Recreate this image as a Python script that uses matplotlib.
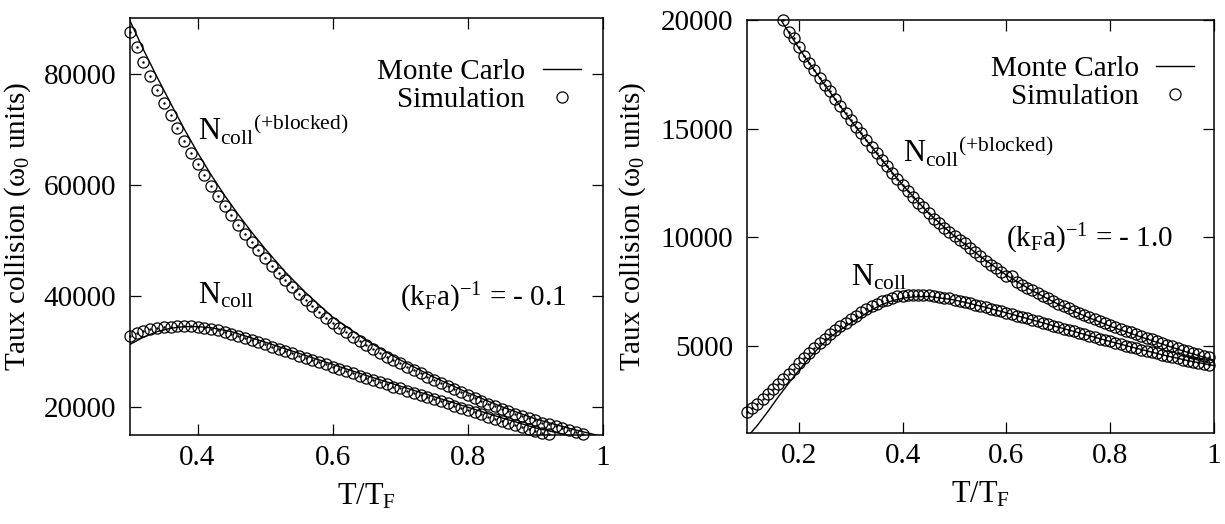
import numpy as np
import matplotlib
matplotlib.use('Agg')
import matplotlib.pyplot as plt
from matplotlib.lines import Line2D

plt.rcParams['font.family'] = ['Liberation Serif', 'DejaVu Serif']
plt.rcParams['mathtext.fontset'] = 'custom'
plt.rcParams['mathtext.rm'] = 'Liberation Serif'
plt.rcParams['mathtext.it'] = 'Liberation Serif:italic'
plt.rcParams['font.size'] = 21

# ---------------- panneau gauche : (kF a)^-1 = -0.1 ----------------
# simulation, N_coll (+blocked)
t_sim_blk_g = [0.30, 0.31, 0.32, 0.33, 0.34, 0.35, 0.36, 0.37, 0.38, 0.39,
               0.40, 0.41, 0.42, 0.43, 0.44, 0.45, 0.46, 0.47, 0.48, 0.49,
               0.50, 0.51, 0.52, 0.53, 0.54, 0.55, 0.56, 0.57, 0.58, 0.59,
               0.60, 0.61, 0.62, 0.63, 0.64, 0.65, 0.66, 0.67, 0.68, 0.69,
               0.70, 0.71, 0.72, 0.73, 0.74, 0.75, 0.76, 0.77, 0.78, 0.79,
               0.80, 0.81, 0.82, 0.83, 0.84, 0.85, 0.86, 0.87, 0.88, 0.89,
               0.90, 0.91, 0.92, 0.93, 0.94, 0.95, 0.96, 0.97]
n_sim_blk_g = [87400, 84700, 82100, 79600, 77100, 74800, 72500, 70200, 67900, 65800,
               63700, 61700, 59800, 58000, 56200, 54500, 52800, 51200, 49700, 48200,
               46800, 45400, 44100, 42800, 41600, 40400, 39300, 38200, 37100, 36100,
               35100, 34300, 33500, 32700, 31900, 31200, 30500, 29800, 29100, 28500,
               27900, 27300, 26700, 26100, 25500, 24900, 24350, 23800, 23250, 22700,
               22150, 21650, 21150, 20650, 20200, 19750, 19300, 18850, 18450, 18050,
               17650, 17250, 16900, 16550, 16200, 15850, 15500, 15200]

# simulation, N_coll
t_sim_col_g = [0.30, 0.31, 0.32, 0.33, 0.34, 0.35, 0.36, 0.37, 0.38, 0.39,
               0.40, 0.41, 0.42, 0.43, 0.44, 0.45, 0.46, 0.47, 0.48, 0.49,
               0.50, 0.51, 0.52, 0.53, 0.54, 0.55, 0.56, 0.57, 0.58, 0.59,
               0.60, 0.61, 0.62, 0.63, 0.64, 0.65, 0.66, 0.67, 0.68, 0.69,
               0.70, 0.71, 0.72, 0.73, 0.74, 0.75, 0.76, 0.77, 0.78, 0.79,
               0.80, 0.81, 0.82, 0.83, 0.84, 0.85, 0.86, 0.87, 0.88, 0.89,
               0.90, 0.91, 0.92]
n_sim_col_g = [32800, 33300, 33700, 34000, 34200, 34400, 34500, 34600, 34600, 34600,
               34450, 34300, 34100, 33800, 33500, 33200, 32900, 32500, 32100, 31700,
               31300, 30900, 30500, 30100, 29700, 29300, 28900, 28500, 28100, 27700,
               27300, 26900, 26500, 26100, 25700, 25300, 24900, 24500, 24100, 23700,
               23400, 23000, 22600, 22200, 21800, 21500, 21100, 20700, 20300, 19900,
               19500, 19100, 18700, 18300, 17900, 17500, 17100, 16800, 16400, 16000,
               15700, 15400, 15100]

# Monte Carlo
t_mc_blk_g = [0.30, 0.32, 0.34, 0.36, 0.38, 0.40, 0.42, 0.44, 0.46, 0.48, 0.50,
              0.53, 0.56, 0.60, 0.65, 0.70, 0.75, 0.80, 0.85, 0.90, 0.95, 1.00]
n_mc_blk_g = [89500, 84300, 79400, 74700, 70100, 65800, 61800, 58100, 54700, 51500, 48500,
              44300, 40600, 36200, 32000, 28500, 25400, 22600, 20100, 17900, 16200, 14700]
t_mc_col_g = [0.30, 0.32, 0.34, 0.36, 0.38, 0.40, 0.42, 0.45, 0.50, 0.55, 0.60,
              0.65, 0.70, 0.75, 0.80, 0.85, 0.90, 0.95, 1.00]
n_mc_col_g = [31300, 32600, 33600, 34200, 34500, 34500, 34300, 33600, 31700, 29700, 27700,
              25700, 23800, 21900, 20000, 18100, 16300, 14900, 13800]

# ---------------- panneau droit : (kF a)^-1 = -1.0 ----------------
t_sim_blk_d = [0.17, 0.18, 0.19, 0.20, 0.21, 0.22, 0.23, 0.24, 0.25, 0.26, 0.27, 0.28, 0.29,
               0.30, 0.31, 0.32, 0.33, 0.34, 0.35, 0.36, 0.37, 0.38, 0.39,
               0.40, 0.41, 0.42, 0.43, 0.44, 0.45, 0.46, 0.47, 0.48, 0.49,
               0.50, 0.51, 0.52, 0.53, 0.54, 0.55, 0.56, 0.57, 0.58, 0.59,
               0.60, 0.61, 0.62, 0.63, 0.64, 0.65, 0.66, 0.67, 0.68, 0.69,
               0.70, 0.71, 0.72, 0.73, 0.74, 0.75, 0.76, 0.77, 0.78, 0.79,
               0.80, 0.81, 0.82, 0.83, 0.84, 0.85, 0.86, 0.87, 0.88, 0.89,
               0.90, 0.91, 0.92, 0.93, 0.94, 0.95, 0.96, 0.97, 0.98, 0.99]
n_sim_blk_d = [20000, 19450, 19170, 18740, 18360, 18010, 17680, 17350, 17030, 16710, 16360, 16050, 15720,
               15380, 15060, 14780, 14480, 14150, 13860, 13540, 13270, 12970, 12690,
               12400, 12150, 11870, 11590, 11380, 11110, 10860, 10650, 10420, 10240,
               10060, 9880, 9720, 9520, 9320, 9120, 8920, 8740, 8570, 8400,
               8240, 8200, 7950, 7810, 7680, 7560, 7430, 7310, 7190, 7070,
               6950, 6840, 6730, 6630, 6530, 6430, 6330, 6230, 6130, 6040,
               5960, 5870, 5790, 5710, 5630, 5550, 5470, 5390, 5310, 5230,
               5150, 5060, 4980, 4910, 4840, 4770, 4700, 4630, 4560, 4490]

t_sim_col_d = [0.10, 0.11, 0.12, 0.13, 0.14, 0.15, 0.16, 0.17, 0.18, 0.19,
               0.20, 0.21, 0.22, 0.23, 0.24, 0.25, 0.26, 0.27, 0.28, 0.29,
               0.30, 0.31, 0.32, 0.33, 0.34, 0.35, 0.36, 0.37, 0.38, 0.39,
               0.40, 0.41, 0.42, 0.43, 0.44, 0.45, 0.46, 0.47, 0.48, 0.49,
               0.50, 0.51, 0.52, 0.53, 0.54, 0.55, 0.56, 0.57, 0.58, 0.59,
               0.60, 0.61, 0.62, 0.63, 0.64, 0.65, 0.66, 0.67, 0.68, 0.69,
               0.70, 0.71, 0.72, 0.73, 0.74, 0.75, 0.76, 0.77, 0.78, 0.79,
               0.80, 0.81, 0.82, 0.83, 0.84, 0.85, 0.86, 0.87, 0.88, 0.89,
               0.90, 0.91, 0.92, 0.93, 0.94, 0.95, 0.96, 0.97, 0.98, 0.99]
n_sim_col_d = [1950, 2150, 2350, 2560, 2780, 3010, 3240, 3480, 3720, 3960,
               4200, 4440, 4680, 4910, 5130, 5340, 5540, 5730, 5910, 6080,
               6240, 6400, 6550, 6690, 6820, 6940, 7050, 7140, 7220, 7280,
               7320, 7350, 7370, 7370, 7360, 7340, 7310, 7270, 7230, 7190,
               7140, 7090, 7030, 6970, 6910, 6850, 6790, 6720, 6660, 6590,
               6530, 6460, 6400, 6330, 6270, 6200, 6140, 6070, 6000, 5940,
               5870, 5800, 5740, 5670, 5600, 5540, 5470, 5400, 5340, 5270,
               5210, 5150, 5080, 5020, 4960, 4900, 4840, 4780, 4720, 4660,
               4600, 4540, 4490, 4430, 4380, 4330, 4280, 4230, 4180, 4130]

t_mc_blk_d = [0.16, 0.20, 0.25, 0.30, 0.35, 0.40, 0.45, 0.50, 0.55, 0.60,
              0.65, 0.70, 0.75, 0.80, 0.85, 0.90, 0.95, 1.00]
n_mc_blk_d = [20200, 18700, 17000, 15380, 13860, 12400, 11110, 10050, 9120, 8260,
              7540, 6920, 6390, 5910, 5490, 5090, 4700, 4350]
t_mc_col_d = [0.10, 0.12, 0.14, 0.16, 0.18, 0.20, 0.22, 0.24, 0.26, 0.28, 0.30,
              0.32, 0.34, 0.36, 0.38, 0.40, 0.42, 0.45, 0.50, 0.55, 0.60,
              0.65, 0.70, 0.75, 0.80, 0.85, 0.90, 0.95, 1.00]
n_mc_col_d = [800, 1350, 1980, 2650, 3280, 3880, 4450, 4960, 5400, 5750, 6060,
              6360, 6660, 6910, 7080, 7200, 7260, 7280, 7120, 6840, 6530,
              6200, 5870, 5540, 5210, 4900, 4600, 4330, 4100]


def sim(ax, t, n):
    # cercles ouverts avec un petit point au centre (style gnuplot)
    ax.plot(t, n, linestyle='none', marker='o', ms=8, mfc='none', mec='black',
            mew=0.9, clip_on=False, zorder=3)
    ax.plot(t, n, linestyle='none', marker='.', ms=1.5, color='black',
            clip_on=False, zorder=3)


def habiller(ax, xlim, ylim, xticks, yticks, xlab):
    ax.set_xlim(*xlim)
    ax.set_ylim(*ylim)
    ax.set_xticks(xticks)
    ax.set_xticklabels([('%g' % v) for v in xticks])
    ax.set_yticks(yticks)
    ax.tick_params(direction='in', length=8, width=0.9, top=True, right=True,
                   labelsize=21)
    ax.tick_params(axis='x', pad=7)
    ax.tick_params(axis='y', pad=10)
    for s in ax.spines.values():
        s.set_linewidth(1.1)
    ax.set_xlabel('T/T$_\\mathrm{F}$', fontsize=22, labelpad=8)
    ax.set_ylabel('Taux collision (ω$_0$ units)', fontsize=21)
    ax.yaxis.set_label_coords(xlab, 0.5)


fig = plt.figure(figsize=(12.25, 5.24), dpi=100)
axg = fig.add_axes([0.1061, 0.1698, 0.3861, 0.7958])
axd = fig.add_axes([0.6098, 0.1737, 0.3812, 0.7882])

# gauche
axg.plot(t_mc_blk_g, n_mc_blk_g, color='black', lw=1.0)
axg.plot(t_mc_col_g, n_mc_col_g, color='black', lw=1.0)
sim(axg, t_sim_blk_g, n_sim_blk_g)
sim(axg, t_sim_col_g, n_sim_col_g)
habiller(axg, (0.3, 1.0), (15000, 90000), [0.4, 0.6, 0.8, 1.0],
         [20000, 40000, 60000, 80000], -0.205)
axg.text(0.40, 68000, 'N$_\\mathrm{coll}$$^\\mathrm{(+blocked)}$', fontsize=22)
axg.text(0.40, 38700, 'N$_\\mathrm{coll}$', fontsize=22)
axg.text(0.70, 38200, '(k$_\\mathrm{F}$a)$^\\mathrm{-1}$ = - 0.1', fontsize=21)

# droite
axd.plot(t_mc_blk_d, n_mc_blk_d, color='black', lw=1.0)
axd.plot(t_mc_col_d, n_mc_col_d, color='black', lw=1.0)
sim(axd, t_sim_blk_d, n_sim_blk_d)
sim(axd, t_sim_col_d, n_sim_col_d)
habiller(axd, (0.1, 1.0), (1000, 20000), [0.2, 0.4, 0.6, 0.8, 1.0],
         [5000, 10000, 15000, 20000], -0.212)
axd.text(0.40, 13420, 'N$_\\mathrm{coll}$$^\\mathrm{(+blocked)}$', fontsize=22)
axd.text(0.30, 7800, 'N$_\\mathrm{coll}$', fontsize=22)
axd.text(0.60, 9570, '(k$_\\mathrm{F}$a)$^\\mathrm{-1}$ = - 1.0', fontsize=21)

# légendes (texte à gauche, symbole à droite)
poignees = [Line2D([], [], color='black', lw=1.0),
            Line2D([], [], linestyle='none', marker='o', ms=8, mfc='none',
                   mec='black', mew=0.9)]
legendes = {axg: (0.99, 0.945), axd: (0.995, 0.955)}
for ax in (axg, axd):
    ax.legend(poignees, ['Monte Carlo', 'Simulation'], loc='upper right',
              bbox_to_anchor=legendes[ax], frameon=False, markerfirst=False,
              fontsize=21, handlelength=1.3, handletextpad=0.6,
              labelspacing=0.05, borderaxespad=0.2)

fig.savefig('out.png', dpi=100)
